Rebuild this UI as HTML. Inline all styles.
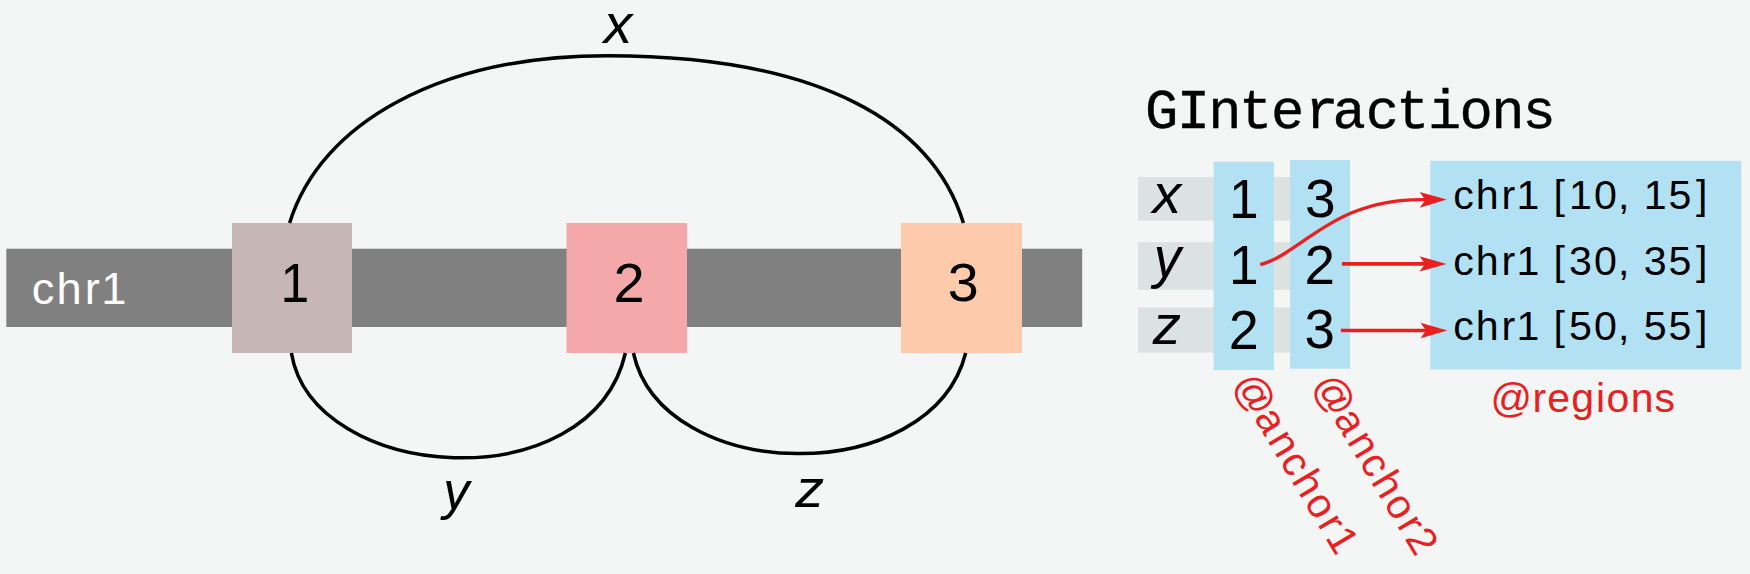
<!DOCTYPE html>
<html><head><meta charset="utf-8">
<style>
html,body{margin:0;padding:0;background:#f4f6f5;}
body{width:1750px;height:574px;overflow:hidden;}
svg{display:block;}
text{font-family:"Liberation Sans",sans-serif;}
.mono{font-family:"Liberation Mono",monospace;}
</style></head>
<body>
<svg width="1750" height="574" viewBox="0 0 1750 574">
<rect x="0" y="0" width="1750" height="574" fill="#f4f6f5"/>
<!-- chromosome bar -->
<rect x="6.3" y="248.7" width="1075.9" height="78.3" fill="#808080"/>
<rect x="232" y="223" width="120" height="130" fill="#c6b6b5"/>
<rect x="566.5" y="223" width="120.5" height="130" fill="#f4a8aa"/>
<rect x="901" y="223" width="121" height="130" fill="#fdcbab"/>
<text id="t_chr1" fill="#ffffff" x="31.82 56.54 84.85 101.26" y="303.7" font-size="45.26">chr1</text>
<text id="t_b1" text-anchor="middle" x="294.85" y="302.19" font-size="56.06" textLength="28.7" lengthAdjust="spacingAndGlyphs">1</text>
<text id="t_b2" text-anchor="middle" x="629" y="302.2" font-size="56" textLength="31.16" lengthAdjust="spacingAndGlyphs">2</text>
<text id="t_b3" text-anchor="middle" x="963.3" y="301.25" font-size="53.23" textLength="30.98" lengthAdjust="spacingAndGlyphs">3</text>
<!-- arcs -->
<g fill="none" stroke="#000" stroke-width="3.5">
<path d="M289.6,223 C320.3,123.5 439.5,55.7 607.2,55.7 C820.2,55.7 932.8,123.1 963.4,223"/>
<path d="M291.4,353 C313.1,482.7 590.8,502.5 625.4,353"/>
<path d="M633.4,353 C662.6,484.8 930.9,489.5 965.7,353"/>
</g>
<text id="t_lx" font-style="italic" text-anchor="middle" x="618.15" y="43.19" font-size="56.07" textLength="28.52" lengthAdjust="spacingAndGlyphs">x</text>
<text id="t_ly" font-style="italic" text-anchor="middle" x="456.38" y="508.6" font-size="54.13" textLength="26.19" lengthAdjust="spacingAndGlyphs">y</text>
<text id="t_lz" font-style="italic" text-anchor="middle" x="809.64" y="507.4" font-size="54.54" textLength="28.88" lengthAdjust="spacingAndGlyphs">z</text>

<!-- right panel -->
<text id="t_title" class="mono" x="1145.09 1176.69 1208.29 1238.95 1271.02 1305.23 1332.50 1365.80 1396.08 1428.05 1459.56 1491.14 1522.54" y="127.8" font-size="55.5" stroke="#000" stroke-width="0.4">GInteractions</text>
<g fill="#dce1e1">
<rect x="1138" y="177" width="212" height="43.6"/>
<rect x="1138" y="242.2" width="212" height="47.6"/>
<rect x="1138" y="307.5" width="212" height="45.1"/>
</g>
<g fill="#b3e1f4">
<rect x="1213.6" y="161.8" width="60.3" height="208.2"/>
<rect x="1290.1" y="160" width="59.9" height="208.7"/>
<rect x="1430.3" y="160.8" width="310.9" height="208.7"/>
</g>
<text id="t_rx" font-style="italic" text-anchor="middle" x="1166.85" y="213" font-size="56.06" textLength="28.71" lengthAdjust="spacingAndGlyphs">x</text>
<text id="t_ry" font-style="italic" text-anchor="middle" x="1167.31" y="277.21" font-size="56.89" textLength="27.33" lengthAdjust="spacingAndGlyphs">y</text>
<text id="t_rz" font-style="italic" text-anchor="middle" x="1166.93" y="344.4" font-size="56.42" textLength="28.27" lengthAdjust="spacingAndGlyphs">z</text>
<g font-size="53" text-anchor="middle">
<text id="t_c11" x="1243.82" y="217.6" font-size="55.59" textLength="29.69" lengthAdjust="spacingAndGlyphs">1</text>
<text id="t_c12" x="1243.83" y="283.79" font-size="55.62" textLength="29.64" lengthAdjust="spacingAndGlyphs">1</text>
<text id="t_c13" x="1243.81" y="349.22" font-size="56.12" textLength="29.97" lengthAdjust="spacingAndGlyphs">2</text>
<text id="t_c21" x="1320.31" y="217.17" font-size="54.09" textLength="30.66" lengthAdjust="spacingAndGlyphs">3</text>
<text id="t_c22" x="1319.8" y="283.8" font-size="54.98" textLength="30.49" lengthAdjust="spacingAndGlyphs">2</text>
<text id="t_c23" x="1319.8" y="347.76" font-size="55.45" textLength="30.4" lengthAdjust="spacingAndGlyphs">3</text>
</g>
<g font-size="42">
<text id="t_r1" x="1453.33 1475.81 1501.55 1516.47 1541.07 1553.38 1569.03 1594.11 1618.10 1630.93 1643.64 1668.57 1696.05" y="209.2" font-size="41.16">chr1 [10, 15]</text>
<text id="t_r2" x="1453.33 1475.81 1501.55 1516.47 1541.07 1553.38 1569.03 1594.11 1618.10 1630.93 1643.64 1668.57 1696.05" y="274.9" font-size="41.16">chr1 [30, 35]</text>
<text id="t_r3" x="1453.33 1475.81 1501.55 1516.47 1541.07 1553.38 1569.03 1594.11 1618.10 1630.93 1643.64 1668.57 1696.05" y="340.3" font-size="41.16">chr1 [50, 55]</text>
</g>
<!-- red arrows -->
<g fill="none" stroke="#e8201f">
<path stroke-width="3.3" d="M1260.3,264.6 C1303.7,253.0 1332.5,197.4 1427,199.6"/>
<path stroke-width="3.6" d="M1341.9,263.9 L1426,263.9"/>
<path stroke-width="3.6" d="M1340.9,330.5 L1426,330.5"/>
</g>
<g fill="#e8201f">
<path d="M1446.8,199.6 L1419.7,192 L1425.3,199.9 L1419.7,207.8 Z"/>
<path d="M1446.5,263.9 L1419.6,256.2 L1425.1,263.9 L1419.6,271.6 Z"/>
<path d="M1447.4,330.5 L1420.5,322.8 L1426,330.5 L1420.5,338.2 Z"/>
</g>
<g fill="#e8201f">
<text id="t_reg" x="1490.39 1532.47 1547.19 1571.19 1596.03 1606.49 1630.79 1654.59" y="411.5" font-size="40.95">@regions</text>
<text id="t_a1" transform="translate(1233.5,384) rotate(59.2)" x="-1.28 38.91 65.35 89.57 112.48 137.31 163.14 178.35" y="0" font-size="40.95">@anchor1</text>
<text id="t_a2" transform="translate(1313,385) rotate(59.2)" x="-1.28 38.91 65.35 89.57 112.48 137.31 163.14 178.35" y="0" font-size="40.95">@anchor2</text>
</g>
</svg>
</body></html>
